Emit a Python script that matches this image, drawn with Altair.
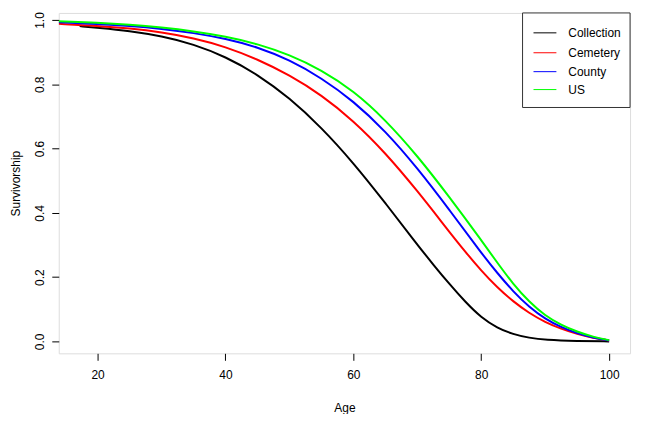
import altair as alt
import pandas as pd

series_names = ["Collection", "Cemetery", "County", "US"]
series_colors = ["#000000", "#FF0000", "#0000FF", "#00FF00"]

collection_age = [17.2, 20, 25, 30, 35, 40, 45, 50, 55, 60, 65, 70, 72.5, 75, 77.5, 80, 82.5, 85, 87.5, 90, 95, 100]
collection_surv = [0.981, 0.976, 0.966, 0.95, 0.925, 0.886, 0.831, 0.758, 0.666, 0.556, 0.431, 0.301, 0.239, 0.179, 0.123, 0.074, 0.042, 0.022, 0.011, 0.005, 0.0012, 0.0]

cemetery_age = [13.9, 20, 25, 30, 35, 40, 45, 50, 55, 60, 65, 70, 75, 77.5, 80, 82.5, 85, 87.5, 90, 92.5, 95, 97.5, 100]
cemetery_surv = [0.988, 0.982, 0.974, 0.962, 0.944, 0.917, 0.878, 0.829, 0.767, 0.687, 0.587, 0.469, 0.341, 0.279, 0.22, 0.168, 0.124, 0.088, 0.06, 0.039, 0.023, 0.011, 0.003]

county_age = [13.9, 20, 25, 30, 35, 40, 45, 50, 55, 60, 65, 70, 75, 80, 82.5, 85, 87.5, 90, 92.5, 95, 97.5, 100]
county_surv = [0.993, 0.988, 0.982, 0.973, 0.96, 0.942, 0.916, 0.876, 0.82, 0.748, 0.655, 0.54, 0.41, 0.275, 0.213, 0.155, 0.107, 0.07, 0.044, 0.025, 0.011, 0.003]

us_age = [13.9, 20, 25, 30, 35, 40, 45, 50, 55, 60, 65, 70, 75, 80, 82.5, 85, 87.5, 90, 92.5, 95, 97.5, 100]
us_surv = [0.996, 0.992, 0.986, 0.977, 0.965, 0.949, 0.926, 0.892, 0.845, 0.78, 0.69, 0.578, 0.45, 0.315, 0.245, 0.178, 0.123, 0.08, 0.051, 0.03, 0.014, 0.004]

x_ticks = [20, 40, 60, 80, 100]
y_ticks = [0.0, 0.2, 0.4, 0.6, 0.8, 1.0]

rows = []
for name, ages, survs in [
    ("Collection", collection_age, collection_surv),
    ("Cemetery", cemetery_age, cemetery_surv),
    ("County", county_age, county_surv),
    ("US", us_age, us_surv),
]:
    for a, s in zip(ages, survs):
        rows.append({"series": name, "age": a, "surv": s})
df = pd.DataFrame(rows)

FONT = "Liberation Sans"
W, H = 574, 342

lines = alt.Chart(df).mark_line(strokeWidth=2, interpolate="basis", clip=True).encode(
    x=alt.X("age:Q", scale=alt.Scale(domain=[13.93, 103.27], nice=False, zero=False),
            axis=alt.Axis(values=x_ticks, title="Age", grid=False, domain=False,
                          tickColor="#000", tickSize=7, labelFontSize=12, labelFont=FONT,
                          labelColor="#000", labelPadding=9, titleFont=FONT, titleFontSize=12,
                          titleFontWeight="normal", titleColor="#000", titlePadding=22)),
    y=alt.Y("surv:Q", scale=alt.Scale(domain=[-0.037, 1.022], nice=False, zero=False),
            axis=alt.Axis(values=y_ticks, format=".1f", title="Survivorship", grid=False,
                          domain=False, tickColor="#000", tickSize=7, labelFontSize=12,
                          labelFont=FONT, labelColor="#000", labelAngle=270, labelAlign="center",
                          labelBaseline="bottom", labelPadding=5, titleFont=FONT,
                          titleFontSize=12, titleFontWeight="normal", titleColor="#000",
                          titlePadding=11)),
    color=alt.Color("series:N", scale=alt.Scale(domain=series_names, range=series_colors), legend=None),
    detail="series:N",
)

# legend box
box = alt.Chart(pd.DataFrame({"a": [0]})).mark_rect(fill="white", stroke="#333", strokeWidth=1).encode(
    x=alt.value(466), x2=alt.value(574), y=alt.value(0), y2=alt.value(95)
)

layers = [lines, box]
legend_y = [20, 40, 59, 77]
for name, col, yy in zip(series_names, series_colors, legend_y):
    layers.append(
        alt.Chart(pd.DataFrame({"a": [0]})).mark_rule(color=col, strokeWidth=1).encode(
            x=alt.value(477), x2=alt.value(500), y=alt.value(yy)
        )
    )
    layers.append(
        alt.Chart(pd.DataFrame({"t": [name]})).mark_text(
            align="left", baseline="middle", font=FONT, fontSize=12, color="#000"
        ).encode(x=alt.value(512), y=alt.value(yy), text="t:N")
    )

chart = alt.layer(*layers).properties(
    width=W, height=H, autosize="none",
    padding={"left": 51, "top": 4, "right": 10, "bottom": 60},
).configure_view(stroke="#333", strokeWidth=1).configure(background="white")

chart.save("out.html", embed_options={"renderer": "svg", "actions": False})
